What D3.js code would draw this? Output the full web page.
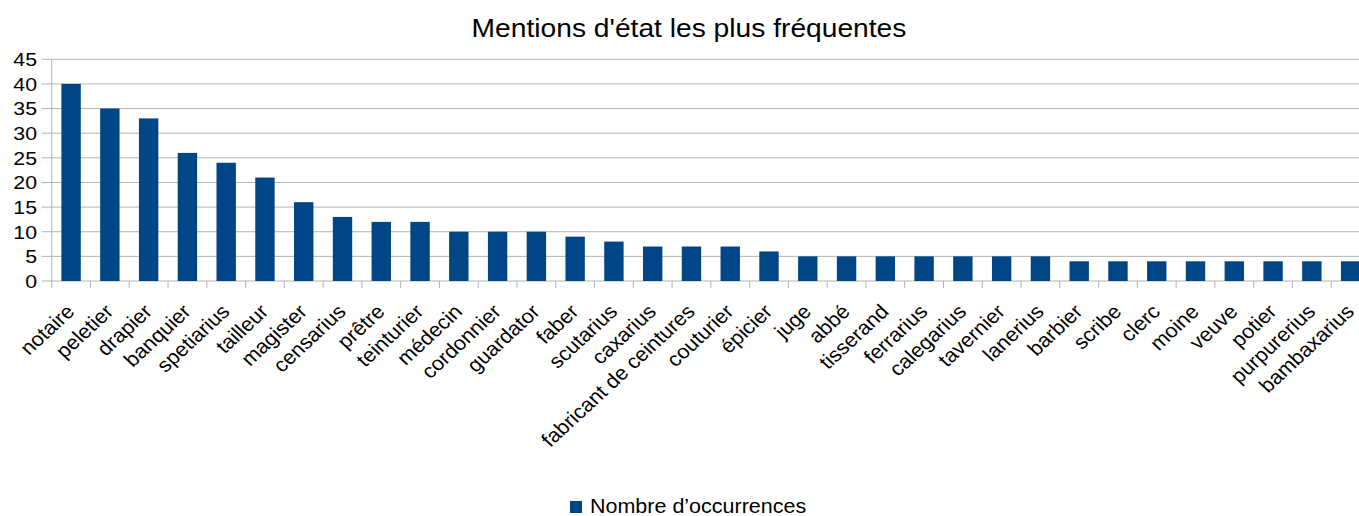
<!DOCTYPE html>
<html><head><meta charset="utf-8">
<script src="https://cdn.jsdelivr.net/npm/d3@7"></script>
<style>body{margin:0;background:#fff}svg{display:block}text{font-family:"Liberation Sans",Arial,sans-serif;fill:#000}</style>
</head><body><svg id="c" width="1359" height="516"></svg>
<script>
const categories = ["notaire","peletier","drapier","banquier","spetiarius","tailleur","magister","censarius","prêtre","teinturier","médecin","cordonnier","guardator","faber","scutarius","caxarius","fabricant de ceintures","couturier","épicier","juge","abbé","tisserand","ferrarius","calegarius","tavernier","lanerius","barbier","scribe","clerc","moine","veuve","potier","purpurerius","bambaxarius"];
const values = [40,35,33,26,24,21,16,13,12,12,10,10,10,9,8,7,7,7,6,5,5,5,5,5,5,5,4,4,4,4,4,4,4,4];
const yTicks = [0,5,10,15,20,25,30,35,40,45];
const title = "Mentions d'état les plus fréquentes";
const seriesName = "Nombre d’occurrences";

const svg = d3.select("#c");
const L = 51.7, R = 1370, T = 59.3, B = 281;
const x = d3.scaleBand().domain(categories).range([L, R]).paddingInner(0.5).paddingOuter(0.25);
const y = d3.scaleLinear().domain([0,45]).range([B, T]);

// gridlines
svg.append("g").selectAll("line").data(yTicks).join("line")
  .attr("x1", L-10).attr("x2", R).attr("y1", d=>y(d)).attr("y2", d=>y(d))
  .attr("stroke", "#b3b3b3").attr("stroke-width", 1);

// y axis line
svg.append("line").attr("x1", L).attr("x2", L).attr("y1", T).attr("y2", B).attr("stroke","#b3b3b3");

// x ticks at band boundaries
const step = x.step();
const bounds = d3.range(categories.length+1).map(i => L + i*step);
svg.append("g").selectAll("line").data(bounds).join("line")
  .attr("x1", d=>d).attr("x2", d=>d).attr("y1", B).attr("y2", B+7)
  .attr("stroke","#b3b3b3");

// bars
svg.append("g").selectAll("rect").data(values).join("rect")
  .attr("x", (d,i)=>x(categories[i])).attr("width", x.bandwidth())
  .attr("y", d=>y(d)).attr("height", d=>B-y(d))
  .attr("fill","#004586");

// y labels
svg.append("g").selectAll("text").data(yTicks).join("text")
  .attr("transform", d=>`translate(37,${y(d)}) scale(1.12,1)`)
  .attr("dy","0.36em")
  .attr("text-anchor","end").attr("font-size", 19).text(d=>d);

// x labels
svg.append("g").selectAll("text").data(categories).join("text")
  .attr("transform", d=>`translate(${x(d)+x.bandwidth()/2-6},${B+22}) scale(1.08,1) rotate(-45)`)
  .attr("text-anchor","end").attr("dy","0.7em").attr("font-size", 20).text(d=>d);

// title
svg.append("text").attr("transform","translate(689,37) scale(1.085,1)")
  .attr("text-anchor","middle").attr("font-size", 26).text(title);

// legend
svg.append("rect").attr("x", 570).attr("y", 501).attr("width", 12).attr("height", 12).attr("fill","#004586");
svg.append("text").attr("transform","translate(590,513) scale(1.075,1)").attr("font-size", 20).text(seriesName);
</script></body></html>
